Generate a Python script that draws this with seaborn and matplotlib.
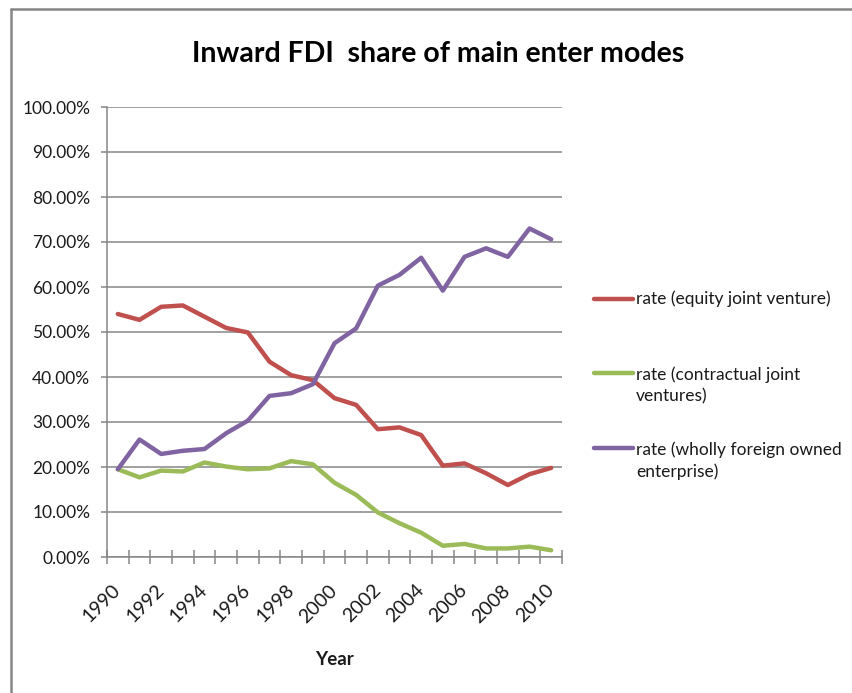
import matplotlib
matplotlib.use("Agg")
import matplotlib.pyplot as plt
from matplotlib.lines import Line2D
from matplotlib.ticker import FixedLocator, PercentFormatter
import numpy as np
import pandas as pd
import seaborn as sns

years = list(range(1990, 2011))
equity_jv = [54.0, 52.7, 55.6, 55.9, 53.4, 50.9, 49.9, 43.4, 40.4, 39.3, 35.3,
             33.8, 28.4, 28.8, 27.1, 20.3, 20.8, 18.6, 16.0, 18.4, 19.8]
contractual_jv = [19.5, 17.7, 19.2, 19.0, 21.0, 20.1, 19.5, 19.7, 21.3, 20.6, 16.5,
                  13.8, 9.9, 7.5, 5.4, 2.5, 2.9, 1.9, 1.9, 2.3, 1.5]
wholly_foreign = [19.5, 26.1, 22.9, 23.6, 24.0, 27.5, 30.3, 35.8, 36.4, 38.4, 47.5,
                  50.8, 60.3, 62.7, 66.5, 59.2, 66.7, 68.6, 66.7, 73.0, 70.6]

series_names = ["rate (equity joint venture)",
                "rate (contractual joint ventures)",
                "rate (wholly foreign owned enterprise)"]
legend_labels = ["rate (equity joint venture)",
                 "rate (contractual joint\nventures)",
                 "rate (wholly foreign owned\nenterprise)"]
colors = ["#C0504D", "#9BBB59", "#8064A2"]

df = pd.DataFrame({
    "Year": years * 3,
    "share": equity_jv + contractual_jv + wholly_foreign,
    "series": [series_names[0]] * len(years) + [series_names[1]] * len(years)
              + [series_names[2]] * len(years),
})

sns.set_theme(style="white")
plt.rcParams["font.family"] = ["Lato", "DejaVu Sans"]

fig = plt.figure(figsize=(8.53, 6.93), dpi=100)
ax = fig.add_axes([107 / 853, 1 - 557 / 693, (562 - 107) / 853, (557 - 107) / 693])

sns.lineplot(data=df, x="Year", y="share", hue="series", palette=colors,
             hue_order=series_names, linewidth=3.2, legend=False, ax=ax,
             solid_capstyle="round", solid_joinstyle="round")

grid_color = "#868686"
text_color = "#1a1a1a"
ax.set_ylim(0, 100)
ax.set_xlim(1989.5, 2010.5)
ax.yaxis.set_major_locator(FixedLocator(np.arange(0, 101, 10)))
ax.yaxis.set_major_formatter(PercentFormatter(decimals=2))
ax.grid(axis="y", color=grid_color, linewidth=1.1)
ax.grid(axis="x", visible=False)
ax.set_axisbelow(True)

# category boundaries carry the tick marks, labels sit at every second year
ax.xaxis.set_major_locator(FixedLocator(np.arange(1989.5, 2011, 1.0)))
ax.xaxis.set_major_formatter(plt.NullFormatter())
ax.xaxis.set_minor_locator(FixedLocator(years[::2]))
ax.set_xticklabels([str(y) for y in years[::2]], minor=True)
ax.tick_params(axis="x", which="major", direction="inout", length=10,
               width=1.1, color=grid_color, bottom=True)
ax.tick_params(axis="x", which="minor", length=0, pad=22, labelsize=14,
               labelcolor=text_color)
for lbl in ax.get_xticklabels(minor=True):
    lbl.set_rotation(45)
    lbl.set_ha("right")
    lbl.set_va("center")
    lbl.set_rotation_mode("anchor")
ax.tick_params(axis="y", direction="out", length=4, width=1.1, color=grid_color,
               left=True, pad=8, labelsize=12.5, labelcolor=text_color)

for side in ("top", "right"):
    ax.spines[side].set_visible(False)
for side in ("left", "bottom"):
    ax.spines[side].set_color(grid_color)
    ax.spines[side].set_linewidth(1.1)

ax.set_xlabel("Year", fontsize=13.5, fontweight="bold", labelpad=18, color=text_color)
ax.set_ylabel("")

fig.text(438 / 853, 1 - 54 / 693, "Inward FDI  share of main enter modes",
         ha="center", va="center", fontsize=20.5, fontweight="bold", color="#000000")

# legend built beside the plot area
legend_rows = [(299, 300), (373, 376), (448, 451)]
for (hy, ty), label, color in zip(legend_rows, legend_labels, colors):
    fig.add_artist(Line2D([594 / 853, 633 / 853], [1 - hy / 693, 1 - hy / 693],
                          transform=fig.transFigure, color=color, linewidth=3.2))
    fig.text(636 / 853, 1 - (ty - 10) / 693, label, ha="left", va="top",
             fontsize=12.5, color=text_color, linespacing=1.45)

# chart frame
fig.add_artist(Line2D([11 / 853, 11 / 853], [0, 1 - 9 / 693],
                      transform=fig.transFigure, color=grid_color, linewidth=1.8))
fig.add_artist(Line2D([11 / 853, 1], [1 - 9 / 693, 1 - 9 / 693],
                      transform=fig.transFigure, color=grid_color, linewidth=1.8))

fig.savefig("out.png", dpi=100)
